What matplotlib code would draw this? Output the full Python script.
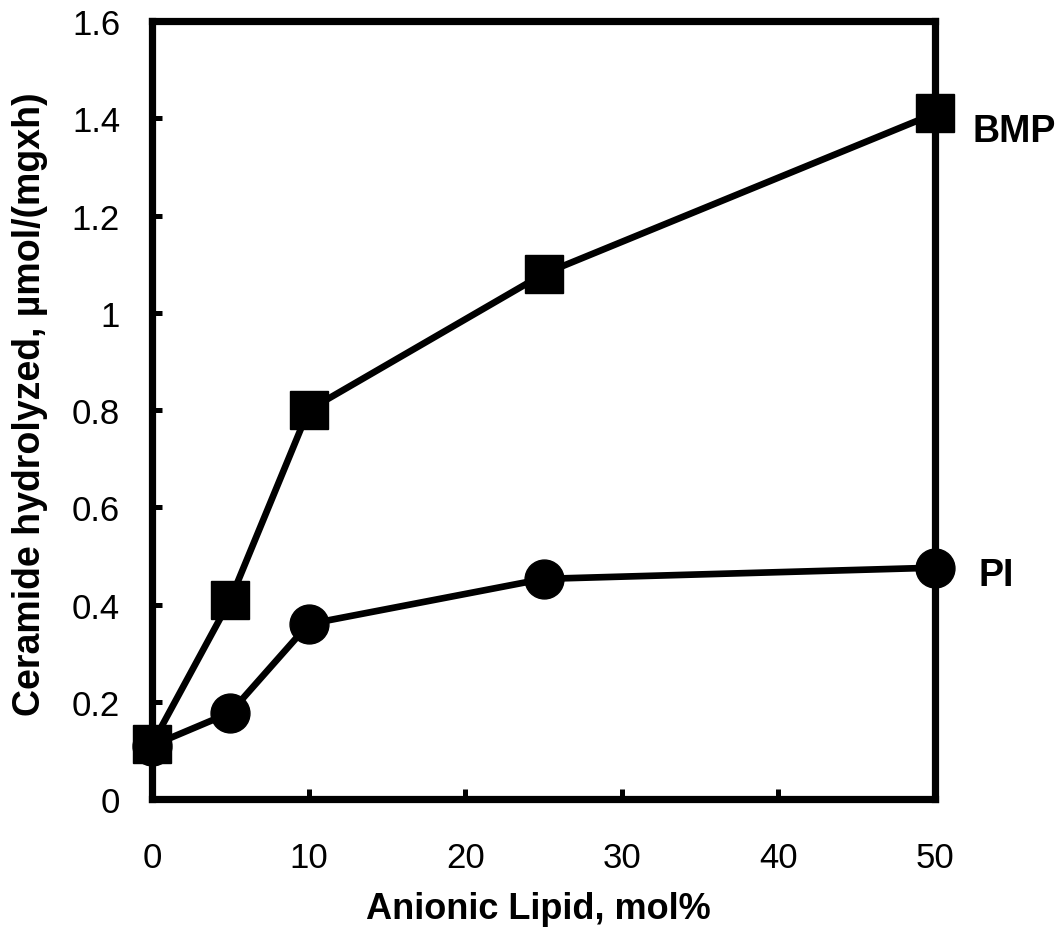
import matplotlib
matplotlib.use("Agg")
import matplotlib.pyplot as plt

plt.rcParams['font.family'] = ['Liberation Sans', 'DejaVu Sans']

lipid_mol = [0, 5, 10, 25, 50]
bmp = [0.113, 0.41, 0.80, 1.08, 1.41]
pi = [0.11, 0.178, 0.36, 0.453, 0.476]

fig = plt.figure(figsize=(10.59, 9.37), dpi=100)
ax = fig.add_axes([0.1435, 0.146, 0.7395, 0.8305])

ax.plot(lipid_mol, pi, color='black', lw=4.8, marker='o', ms=28,
        clip_on=False, zorder=3)
ax.plot(lipid_mol, bmp, color='black', lw=4.8, marker='s', ms=27.5,
        clip_on=False, zorder=4)

ax.set_xlim(0, 50)
ax.set_ylim(0, 1.6)
ax.set_xticks([0, 10, 20, 30, 40, 50])
ax.set_yticks([0, 0.2, 0.4, 0.6, 0.8, 1.0, 1.2, 1.4, 1.6])
ax.set_yticklabels(['0', '0.2', '0.4', '0.6', '0.8', '1', '1.2', '1.4', '1.6'])

for s in ax.spines.values():
    s.set_linewidth(5.2)
ax.tick_params(direction='in', length=7, width=3.6, labelsize=25)
ax.tick_params(axis='x', pad=30)
ax.tick_params(axis='y', pad=23)

ax.set_xlabel('Anionic Lipid, mol%', fontsize=26, fontweight='bold')
ax.set_ylabel('Ceramide hydrolyzed, µmol/(mgxh)', fontsize=27,
              fontweight='bold')
ax.xaxis.set_label_coords(0.494, -0.118)
ax.yaxis.set_label_coords(-0.133, 0.509)

ax.annotate('BMP', xy=(lipid_mol[-1], bmp[-1]), xytext=(27, -13),
            textcoords='offset points', fontsize=27, fontweight='bold',
            va='center', ha='left', annotation_clip=False)
ax.annotate('PI', xy=(lipid_mol[-1], pi[-1]), xytext=(31, -5),
            textcoords='offset points', fontsize=27, fontweight='bold',
            va='center', ha='left', annotation_clip=False)

fig.savefig('out.png', dpi=100)
